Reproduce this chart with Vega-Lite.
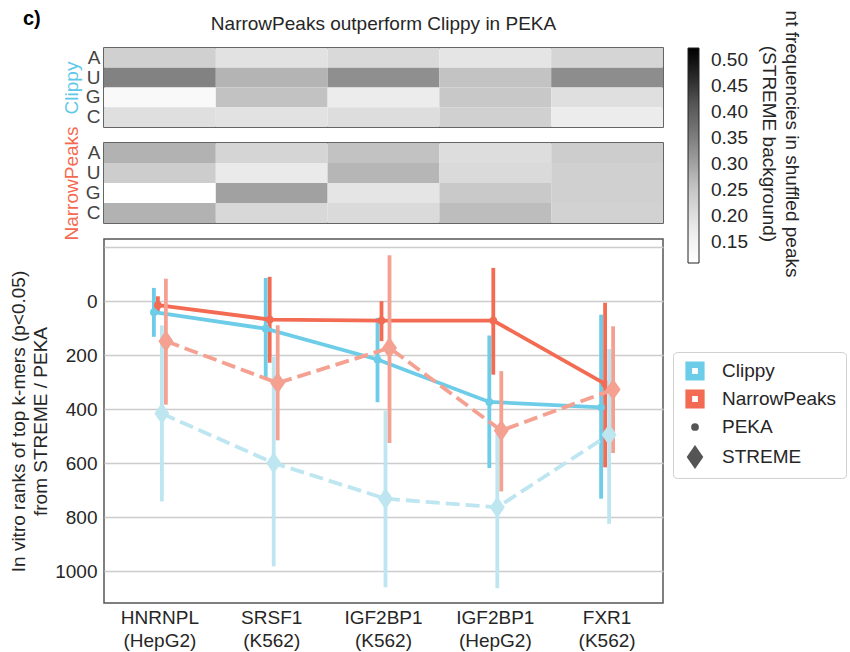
{
  "$schema": "https://vega.github.io/schema/vega-lite/v6.json",
  "background": "white",
  "padding": {"left": 8, "top": 9, "right": 0, "bottom": 0},
  "title": {"text": "c)", "anchor": "start", "frame": "bounds", "fontSize": 20, "fontWeight": "bold", "color": "#000000", "offset": -15, "dx": 14},
  "config": {
    "font": "Liberation Sans",
    "view": {"stroke": "#333333", "strokeWidth": 1.5}
  },
  "datasets": {
    "freqs": [
      {"tool": "Clippy", "nt": "A", "cat": "HNRNPL|(HepG2)", "freq": 0.229},
      {"tool": "Clippy", "nt": "A", "cat": "SRSF1|(K562)", "freq": 0.192},
      {"tool": "Clippy", "nt": "A", "cat": "IGF2BP1|(K562)", "freq": 0.214},
      {"tool": "Clippy", "nt": "A", "cat": "IGF2BP1|(HepG2)", "freq": 0.186},
      {"tool": "Clippy", "nt": "A", "cat": "FXR1|(K562)", "freq": 0.220},
      {"tool": "Clippy", "nt": "U", "cat": "HNRNPL|(HepG2)", "freq": 0.346},
      {"tool": "Clippy", "nt": "U", "cat": "SRSF1|(K562)", "freq": 0.277},
      {"tool": "Clippy", "nt": "U", "cat": "IGF2BP1|(K562)", "freq": 0.327},
      {"tool": "Clippy", "nt": "U", "cat": "IGF2BP1|(HepG2)", "freq": 0.253},
      {"tool": "Clippy", "nt": "U", "cat": "FXR1|(K562)", "freq": 0.330},
      {"tool": "Clippy", "nt": "G", "cat": "HNRNPL|(HepG2)", "freq": 0.131},
      {"tool": "Clippy", "nt": "G", "cat": "SRSF1|(K562)", "freq": 0.256},
      {"tool": "Clippy", "nt": "G", "cat": "IGF2BP1|(K562)", "freq": 0.170},
      {"tool": "Clippy", "nt": "G", "cat": "IGF2BP1|(HepG2)", "freq": 0.244},
      {"tool": "Clippy", "nt": "G", "cat": "FXR1|(K562)", "freq": 0.200},
      {"tool": "Clippy", "nt": "C", "cat": "HNRNPL|(HepG2)", "freq": 0.200},
      {"tool": "Clippy", "nt": "C", "cat": "SRSF1|(K562)", "freq": 0.192},
      {"tool": "Clippy", "nt": "C", "cat": "IGF2BP1|(K562)", "freq": 0.204},
      {"tool": "Clippy", "nt": "C", "cat": "IGF2BP1|(HepG2)", "freq": 0.229},
      {"tool": "Clippy", "nt": "C", "cat": "FXR1|(K562)", "freq": 0.170},
      {"tool": "NarrowPeaks", "nt": "A", "cat": "HNRNPL|(HepG2)", "freq": 0.279},
      {"tool": "NarrowPeaks", "nt": "A", "cat": "SRSF1|(K562)", "freq": 0.220},
      {"tool": "NarrowPeaks", "nt": "A", "cat": "IGF2BP1|(K562)", "freq": 0.256},
      {"tool": "NarrowPeaks", "nt": "A", "cat": "IGF2BP1|(HepG2)", "freq": 0.205},
      {"tool": "NarrowPeaks", "nt": "A", "cat": "FXR1|(K562)", "freq": 0.236},
      {"tool": "NarrowPeaks", "nt": "U", "cat": "HNRNPL|(HepG2)", "freq": 0.236},
      {"tool": "NarrowPeaks", "nt": "U", "cat": "SRSF1|(K562)", "freq": 0.175},
      {"tool": "NarrowPeaks", "nt": "U", "cat": "IGF2BP1|(K562)", "freq": 0.274},
      {"tool": "NarrowPeaks", "nt": "U", "cat": "IGF2BP1|(HepG2)", "freq": 0.212},
      {"tool": "NarrowPeaks", "nt": "U", "cat": "FXR1|(K562)", "freq": 0.229},
      {"tool": "NarrowPeaks", "nt": "G", "cat": "HNRNPL|(HepG2)", "freq": 0.110},
      {"tool": "NarrowPeaks", "nt": "G", "cat": "SRSF1|(K562)", "freq": 0.302},
      {"tool": "NarrowPeaks", "nt": "G", "cat": "IGF2BP1|(K562)", "freq": 0.186},
      {"tool": "NarrowPeaks", "nt": "G", "cat": "IGF2BP1|(HepG2)", "freq": 0.242},
      {"tool": "NarrowPeaks", "nt": "G", "cat": "FXR1|(K562)", "freq": 0.229},
      {"tool": "NarrowPeaks", "nt": "C", "cat": "HNRNPL|(HepG2)", "freq": 0.279},
      {"tool": "NarrowPeaks", "nt": "C", "cat": "SRSF1|(K562)", "freq": 0.216},
      {"tool": "NarrowPeaks", "nt": "C", "cat": "IGF2BP1|(K562)", "freq": 0.210},
      {"tool": "NarrowPeaks", "nt": "C", "cat": "IGF2BP1|(HepG2)", "freq": 0.265},
      {"tool": "NarrowPeaks", "nt": "C", "cat": "FXR1|(K562)", "freq": 0.227}
    ],
    "ranks": [
      {"cat": "HNRNPL|(HepG2)", "series": "Clippy PEKA", "method": "PEKA", "rank": 41, "lo": -49, "hi": 132},
      {"cat": "HNRNPL|(HepG2)", "series": "NarrowPeaks PEKA", "method": "PEKA", "rank": 15, "lo": -18, "hi": 43},
      {"cat": "HNRNPL|(HepG2)", "series": "Clippy STREME", "method": "STREME", "rank": 416, "lo": 90, "hi": 741},
      {"cat": "HNRNPL|(HepG2)", "series": "NarrowPeaks STREME", "method": "STREME", "rank": 148, "lo": -83, "hi": 383},
      {"cat": "SRSF1|(K562)", "series": "Clippy PEKA", "method": "PEKA", "rank": 102, "lo": -86, "hi": 290},
      {"cat": "SRSF1|(K562)", "series": "NarrowPeaks PEKA", "method": "PEKA", "rank": 68, "lo": -90, "hi": 228},
      {"cat": "SRSF1|(K562)", "series": "Clippy STREME", "method": "STREME", "rank": 599, "lo": 206, "hi": 981},
      {"cat": "SRSF1|(K562)", "series": "NarrowPeaks STREME", "method": "STREME", "rank": 303, "lo": 89, "hi": 515},
      {"cat": "IGF2BP1|(K562)", "series": "Clippy PEKA", "method": "PEKA", "rank": 216, "lo": 62, "hi": 374},
      {"cat": "IGF2BP1|(K562)", "series": "NarrowPeaks PEKA", "method": "PEKA", "rank": 72, "lo": 0, "hi": 148},
      {"cat": "IGF2BP1|(K562)", "series": "Clippy STREME", "method": "STREME", "rank": 731, "lo": 405, "hi": 1059},
      {"cat": "IGF2BP1|(K562)", "series": "NarrowPeaks STREME", "method": "STREME", "rank": 173, "lo": -170, "hi": 525},
      {"cat": "IGF2BP1|(HepG2)", "series": "Clippy PEKA", "method": "PEKA", "rank": 373, "lo": 127, "hi": 617},
      {"cat": "IGF2BP1|(HepG2)", "series": "NarrowPeaks PEKA", "method": "PEKA", "rank": 72, "lo": -123, "hi": 272},
      {"cat": "IGF2BP1|(HepG2)", "series": "Clippy STREME", "method": "STREME", "rank": 763, "lo": 490, "hi": 1062},
      {"cat": "IGF2BP1|(HepG2)", "series": "NarrowPeaks STREME", "method": "STREME", "rank": 479, "lo": 259, "hi": 704},
      {"cat": "FXR1|(K562)", "series": "Clippy PEKA", "method": "PEKA", "rank": 393, "lo": 50, "hi": 731},
      {"cat": "FXR1|(K562)", "series": "NarrowPeaks PEKA", "method": "PEKA", "rank": 306, "lo": 6, "hi": 615},
      {"cat": "FXR1|(K562)", "series": "Clippy STREME", "method": "STREME", "rank": 494, "lo": 177, "hi": 824},
      {"cat": "FXR1|(K562)", "series": "NarrowPeaks STREME", "method": "STREME", "rank": 327, "lo": 93, "hi": 562}
    ]
  },
  "spacing": 16,
  "bounds": "flush",
  "resolve": {
    "scale": {"x": "independent", "y": "independent", "color": "independent", "shape": "independent", "xOffset": "independent"},
    "legend": {"color": "independent", "shape": "independent"}
  },
  "vconcat": [
    {
      "width": 559,
      "height": 79,
      "data": {"name": "freqs"},
      "transform": [{"filter": "datum.tool === 'Clippy'"}],
      "title": {"text": "NarrowPeaks outperform Clippy in PEKA", "fontSize": 19, "fontWeight": "normal", "anchor": "middle", "offset": 14, "color": "#262626"},
      "mark": "rect",
      "encoding": {
        "x": {"field": "cat", "type": "nominal", "sort": ["HNRNPL|(HepG2)", "SRSF1|(K562)", "IGF2BP1|(K562)", "IGF2BP1|(HepG2)", "FXR1|(K562)"], "scale": {"paddingInner": 0, "paddingOuter": 0}, "axis": null},
        "y": {"field": "nt", "type": "nominal", "sort": ["A", "U", "G", "C"], "scale": {"paddingInner": 0, "paddingOuter": 0},
          "axis": {"title": "Clippy", "titleColor": "#5ec8e8", "titleFontSize": 19, "titleFontWeight": "normal", "titlePadding": 4, "labelFontSize": 19, "labelColor": "#444444", "labelPadding": 4, "ticks": false, "domain": false, "grid": false}},
        "color": {"field": "freq", "type": "quantitative",
          "scale": {"domain": [0.11, 0.1616, 0.2133, 0.2649, 0.3165, 0.3681, 0.4198, 0.4714, 0.523], "range": ["#ffffff", "#f0f0f0", "#d9d9d9", "#bdbdbd", "#969696", "#737373", "#525252", "#252525", "#000000"], "interpolate": "rgb"},
          "legend": {"title": ["nt frequencies in shuffled peaks", "(STREME background)"], "orient": "right", "offset": 25, "direction": "vertical", "gradientLength": 215, "gradientThickness": 11, "values": [0.15, 0.2, 0.25, 0.3, 0.35, 0.4, 0.45, 0.5], "format": ".2f", "labelFontSize": 19, "labelColor": "#262626", "labelOffset": 12, "labelOverlap": false, "titleOrient": "right", "titleAngle": 90, "titleBaseline": "bottom", "titleFontSize": 19, "titleFontWeight": "normal", "titleColor": "#262626", "titleLineHeight": 23, "titlePadding": 34, "titleAnchor": "middle", "titleLimit": 500, "gradientStrokeColor": "#222222", "gradientStrokeWidth": 1}}
      }
    },
    {
      "width": 559,
      "height": 80,
      "data": {"name": "freqs"},
      "transform": [{"filter": "datum.tool === 'NarrowPeaks'"}],
      "mark": "rect",
      "encoding": {
        "x": {"field": "cat", "type": "nominal", "sort": ["HNRNPL|(HepG2)", "SRSF1|(K562)", "IGF2BP1|(K562)", "IGF2BP1|(HepG2)", "FXR1|(K562)"], "scale": {"paddingInner": 0, "paddingOuter": 0}, "axis": null},
        "y": {"field": "nt", "type": "nominal", "sort": ["A", "U", "G", "C"], "scale": {"paddingInner": 0, "paddingOuter": 0},
          "axis": {"title": "NarrowPeaks", "titleColor": "#f4694f", "titleFontSize": 19, "titleFontWeight": "normal", "titlePadding": 4, "labelFontSize": 19, "labelColor": "#444444", "labelPadding": 4, "ticks": false, "domain": false, "grid": false}},
        "color": {"field": "freq", "type": "quantitative",
          "scale": {"domain": [0.11, 0.1616, 0.2133, 0.2649, 0.3165, 0.3681, 0.4198, 0.4714, 0.523], "range": ["#ffffff", "#f0f0f0", "#d9d9d9", "#bdbdbd", "#969696", "#737373", "#525252", "#252525", "#000000"], "interpolate": "rgb"},
          "legend": null}
      }
    },
    {
      "width": 559,
      "height": 364,
      "data": {"name": "ranks"},
      "view": {"stroke": "#555555", "strokeWidth": 1.5},
      "encoding": {
        "x": {"field": "cat", "type": "nominal", "sort": ["HNRNPL|(HepG2)", "SRSF1|(K562)", "IGF2BP1|(K562)", "IGF2BP1|(HepG2)", "FXR1|(K562)"], "scale": {"paddingInner": 0, "paddingOuter": 0},
          "axis": {"title": null, "labelExpr": "split(datum.label, '|')", "labelAngle": 0, "labelFontSize": 19, "labelLineHeight": 23, "labelColor": "#262626", "labelPadding": 5, "ticks": false, "domain": false, "grid": false}},
        "xOffset": {"field": "series", "type": "nominal", "sort": ["Clippy PEKA", "NarrowPeaks PEKA", "Clippy STREME", "NarrowPeaks STREME"], "scale": {"range": [47.9, 63.9], "paddingInner": 0, "paddingOuter": 0}},
        "color": {"field": "series", "type": "nominal", "scale": {"domain": ["Clippy PEKA", "NarrowPeaks PEKA", "Clippy STREME", "NarrowPeaks STREME"], "range": ["#6dcde8", "#f26b52", "#bde6f1", "#f5a192"]}, "legend": null}
      },
      "layer": [
        {
          "transform": [{"filter": "datum.method === 'PEKA'"}],
          "mark": {"type": "rule", "strokeWidth": 3.8},
          "encoding": {
            "y": {"field": "lo", "type": "quantitative", "scale": {"domain": [-230, 1117], "reverse": true, "nice": false, "zero": false},
              "axis": {"title": ["In vitro ranks of top k-mers (p<0.05)", "from STREME / PEKA"], "values": [-200, 0, 200, 400, 600, 800, 1000], "format": "d", "labelExpr": "datum.value < 0 ? '' : datum.label", "grid": true, "gridColor": "#cccccc", "gridWidth": 1.3, "ticks": false, "domain": false, "labelFontSize": 19, "labelColor": "#262626", "labelPadding": 7, "titleFontSize": 19, "titleFontWeight": "normal", "titleColor": "#262626", "titleLineHeight": 22, "titlePadding": 4}},
            "y2": {"field": "hi"}
          }
        },
        {
          "transform": [{"filter": "datum.method === 'PEKA'"}],
          "mark": {"type": "line", "strokeWidth": 3.8},
          "encoding": {
            "y": {"field": "rank", "type": "quantitative", "scale": {"domain": [-230, 1117], "reverse": true, "nice": false, "zero": false},
              "axis": {"title": ["In vitro ranks of top k-mers (p<0.05)", "from STREME / PEKA"], "values": [-200, 0, 200, 400, 600, 800, 1000], "format": "d", "labelExpr": "datum.value < 0 ? '' : datum.label", "grid": true, "gridColor": "#cccccc", "gridWidth": 1.3, "ticks": false, "domain": false, "labelFontSize": 19, "labelColor": "#262626", "labelPadding": 7, "titleFontSize": 19, "titleFontWeight": "normal", "titleColor": "#262626", "titleLineHeight": 22, "titlePadding": 4}}
          }
        },
        {
          "transform": [{"filter": "datum.method === 'PEKA'"}],
          "mark": {"type": "point", "filled": true, "opacity": 1, "size": 60},
          "encoding": {
            "y": {"field": "rank", "type": "quantitative", "scale": {"domain": [-230, 1117], "reverse": true, "nice": false, "zero": false},
              "axis": {"title": ["In vitro ranks of top k-mers (p<0.05)", "from STREME / PEKA"], "values": [-200, 0, 200, 400, 600, 800, 1000], "format": "d", "labelExpr": "datum.value < 0 ? '' : datum.label", "grid": true, "gridColor": "#cccccc", "gridWidth": 1.3, "ticks": false, "domain": false, "labelFontSize": 19, "labelColor": "#262626", "labelPadding": 7, "titleFontSize": 19, "titleFontWeight": "normal", "titleColor": "#262626", "titleLineHeight": 22, "titlePadding": 4}},
            "shape": {"field": "method", "type": "nominal",
              "scale": {"domain": ["Clippy", "NarrowPeaks", "PEKA", "STREME"], "range": ["M-1,-1L1,-1L1,1L-1,1Z M-0.3,-0.3L-0.3,0.3L0.3,0.3L0.3,-0.3Z", "M-1,-1L1,-1L1,1L-1,1Z M-0.3,-0.3L-0.3,0.3L0.3,0.3L0.3,-0.3Z", "circle", "M0,-1.3L0.9,0L0,1.3L-0.9,0Z"]},
              "legend": {"title": null, "orient": "none", "legendX": 569, "legendY": 113, "labelFontSize": 19, "labelColor": "#262626", "padding": 9, "rowPadding": 8, "labelOffset": 17, "symbolOffset": 3, "strokeColor": "#d0d0d0", "fillColor": "white", "cornerRadius": 4,
                "symbolSize": {"expr": "(datum.value === 'STREME' ? 340 : (datum.value === 'PEKA' ? 60 : 370))"},
                "symbolFillColor": {"expr": "(datum.value === 'Clippy' ? '#6dcde8' : (datum.value === 'NarrowPeaks' ? '#f26b52' : '#555555'))"},
                "symbolStrokeColor": "transparent",
                "symbolStrokeWidth": 0,
                "symbolOpacity": 1}
            }
          }
        },
        {
          "transform": [{"filter": "datum.method === 'STREME'"}],
          "mark": {"type": "rule", "strokeWidth": 3.8},
          "encoding": {
            "y": {"field": "lo", "type": "quantitative", "scale": {"domain": [-230, 1117], "reverse": true, "nice": false, "zero": false},
              "axis": {"title": ["In vitro ranks of top k-mers (p<0.05)", "from STREME / PEKA"], "values": [-200, 0, 200, 400, 600, 800, 1000], "format": "d", "labelExpr": "datum.value < 0 ? '' : datum.label", "grid": true, "gridColor": "#cccccc", "gridWidth": 1.3, "ticks": false, "domain": false, "labelFontSize": 19, "labelColor": "#262626", "labelPadding": 7, "titleFontSize": 19, "titleFontWeight": "normal", "titleColor": "#262626", "titleLineHeight": 22, "titlePadding": 4}},
            "y2": {"field": "hi"}
          }
        },
        {
          "transform": [{"filter": "datum.method === 'STREME'"}],
          "mark": {"type": "line", "strokeWidth": 3.8, "strokeDash": [14, 6]},
          "encoding": {
            "y": {"field": "rank", "type": "quantitative", "scale": {"domain": [-230, 1117], "reverse": true, "nice": false, "zero": false},
              "axis": {"title": ["In vitro ranks of top k-mers (p<0.05)", "from STREME / PEKA"], "values": [-200, 0, 200, 400, 600, 800, 1000], "format": "d", "labelExpr": "datum.value < 0 ? '' : datum.label", "grid": true, "gridColor": "#cccccc", "gridWidth": 1.3, "ticks": false, "domain": false, "labelFontSize": 19, "labelColor": "#262626", "labelPadding": 7, "titleFontSize": 19, "titleFontWeight": "normal", "titleColor": "#262626", "titleLineHeight": 22, "titlePadding": 4}}
          }
        },
        {
          "transform": [{"filter": "datum.method === 'STREME'"}],
          "mark": {"type": "point", "filled": true, "opacity": 1, "size": 278},
          "encoding": {
            "y": {"field": "rank", "type": "quantitative", "scale": {"domain": [-230, 1117], "reverse": true, "nice": false, "zero": false},
              "axis": {"title": ["In vitro ranks of top k-mers (p<0.05)", "from STREME / PEKA"], "values": [-200, 0, 200, 400, 600, 800, 1000], "format": "d", "labelExpr": "datum.value < 0 ? '' : datum.label", "grid": true, "gridColor": "#cccccc", "gridWidth": 1.3, "ticks": false, "domain": false, "labelFontSize": 19, "labelColor": "#262626", "labelPadding": 7, "titleFontSize": 19, "titleFontWeight": "normal", "titleColor": "#262626", "titleLineHeight": 22, "titlePadding": 4}},
            "shape": {"field": "method", "type": "nominal",
              "scale": {"domain": ["Clippy", "NarrowPeaks", "PEKA", "STREME"], "range": ["M-1,-1L1,-1L1,1L-1,1Z M-0.3,-0.3L-0.3,0.3L0.3,0.3L0.3,-0.3Z", "M-1,-1L1,-1L1,1L-1,1Z M-0.3,-0.3L-0.3,0.3L0.3,0.3L0.3,-0.3Z", "circle", "M0,-1.3L0.9,0L0,1.3L-0.9,0Z"]},
              "legend": {"title": null, "orient": "none", "legendX": 569, "legendY": 113, "labelFontSize": 19, "labelColor": "#262626", "padding": 9, "rowPadding": 8, "labelOffset": 17, "symbolOffset": 3, "strokeColor": "#d0d0d0", "fillColor": "white", "cornerRadius": 4,
                "symbolSize": {"expr": "(datum.value === 'STREME' ? 340 : (datum.value === 'PEKA' ? 60 : 370))"},
                "symbolFillColor": {"expr": "(datum.value === 'Clippy' ? '#6dcde8' : (datum.value === 'NarrowPeaks' ? '#f26b52' : '#555555'))"},
                "symbolStrokeColor": "transparent",
                "symbolStrokeWidth": 0,
                "symbolOpacity": 1}
            }
          }
        }
      ]
    }
  ]
}
